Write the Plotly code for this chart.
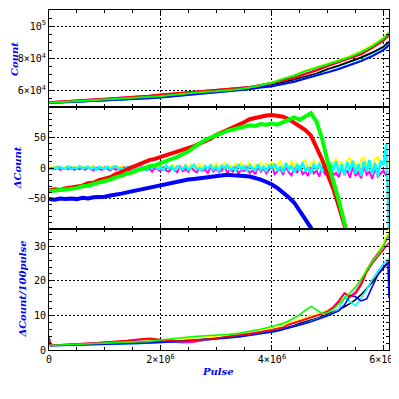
import plotly.graph_objects as go

# ---------------- data ----------------
PULSE_A = [0, 2e5, 4e5, 6e5, 8e5, 1.0e6, 1.2e6, 1.4e6, 1.6e6, 1.8e6, 2.0e6, 2.2e6, 2.4e6, 2.6e6,
           2.8e6, 3.0e6, 3.2e6, 3.4e6, 3.6e6, 3.8e6, 4.0e6, 4.2e6, 4.4e6, 4.6e6, 4.8e6, 5.0e6,
           5.2e6, 5.4e6, 5.6e6, 5.8e6, 6.0e6, 6.1e6]

COUNT_BLACK = [52600, 53000, 53400, 53700, 54000, 54200, 54500, 54800, 55200, 55700, 56300, 56900,
               57600, 58200, 58800, 59400, 60000, 60600, 61600, 62600, 63600, 65200, 66800, 68800,
               70600, 73400, 75600, 78000, 80600, 83600, 87200, 90300]
COUNT_BLUE = [52500, 52800, 53100, 53400, 53700, 53900, 54200, 54500, 54900, 55400, 55900, 56500,
              57200, 57800, 58300, 58800, 59400, 60100, 61000, 62000, 62800, 64200, 65600, 67600,
              69400, 71400, 73500, 75900, 78400, 81500, 85200, 88300]
COUNT_CYAN = [52500, 52800, 53100, 53400, 53700, 53900, 54200, 54500, 54900, 55400, 55900, 56500,
              57200, 57800, 58300, 58900, 59500, 60200, 61100, 62100, 62900, 64300, 65800, 67800,
              69600, 71600, 73800, 76200, 78800, 82000, 85800, 88800]
COUNT_RED = [53000, 53500, 54000, 54300, 54600, 55000, 55400, 55800, 56400, 57000, 57800, 58300,
             58800, 59300, 59900, 60400, 61000, 61700, 62400, 63500, 64800, 66400, 68000, 70400,
             72600, 75300, 77600, 80000, 82600, 86600, 91000, 94500]
COUNT_MAGENTA = [53000, 53400, 53900, 54300, 54600, 55000, 55400, 55800, 56300, 56900, 57600, 58200,
                 58700, 59200, 59800, 60300, 60900, 61600, 62400, 63500, 64900, 66500, 68200, 70600,
                 72900, 75600, 78000, 80400, 83100, 87100, 91600, 95000]
COUNT_GREEN = [52700, 53100, 53500, 53900, 54200, 54500, 54900, 55300, 55800, 56200, 56700, 57400,
               58200, 58900, 59400, 59800, 60400, 61000, 62100, 63500, 65000, 67400, 69500, 72200,
               74500, 76400, 78600, 81000, 84000, 87600, 92400, 95900]
COUNT_YELLOW = [52700, 53100, 53500, 53900, 54200, 54500, 54900, 55300, 55700, 56200, 56700, 57300,
                58000, 58700, 59300, 59800, 60400, 61100, 62200, 63600, 65100, 67500, 69700, 72400,
                74800, 76800, 79000, 81500, 84600, 88200, 93000, 96600]

# trend differences (red, green, blue)
PULSE_B = [0, 1e5, 2e5, 3e5, 4e5, 5e5, 6e5, 7e5, 8e5, 9e5,
           1.0e6, 1.1e6, 1.2e6, 1.3e6, 1.4e6, 1.5e6, 1.6e6, 1.7e6, 1.8e6, 1.9e6,
           2.0e6, 2.1e6, 2.2e6, 2.3e6, 2.4e6, 2.5e6, 2.6e6, 2.7e6, 2.8e6, 2.9e6,
           3.0e6, 3.1e6, 3.2e6, 3.3e6, 3.4e6, 3.5e6, 3.6e6, 3.7e6, 3.8e6, 3.9e6,
           4.0e6, 4.1e6, 4.2e6, 4.3e6, 4.4e6, 4.5e6, 4.6e6, 4.7e6, 4.8e6, 4.9e6,
           5.0e6, 5.1e6, 5.2e6, 5.3e6, 5.4e6, 5.5e6, 5.6e6, 5.7e6, 5.8e6, 5.9e6,
           6.0e6, 6.1e6]

DCOUNT_RED = [-37, -35, -36, -33, -32, -30, -29, -25, -24, -20,
              -17, -15, -10, -7, -2, 2, 6, 9, 13, 15,
              18, 21, 24, 26, 30, 33, 36, 40, 44, 48,
              54, 58, 63, 67, 71, 75, 80, 82, 85, 86,
              87, 85, 84, 80, 74, 68, 62, 53, 35, 14,
              -11, -34, -63, -98, -125, None, None, None, None, None, None, None]
DCOUNT_GREEN = [-38, -37, -36, -35, -33, -33, -30, -29, -26, -24,
                -21, -19, -15, -13, -9, -7, -3, -1, 3, 4,
                8, 11, 15, 18, 23, 27, 34, 41, 46, 50,
                53, 57, 61, 63, 66, 68, 70, 69, 72, 71,
                73, 71, 75, 79, 83, 79, 85, 90, 76, 48,
                10, -20, -53, -90, -125, None, None, None, None, None, None, None]
DCOUNT_BLUE = [-51, -52, -50, -51, -50, -51, -49, -50, -48, -48,
               -47, -45, -44, -42, -40, -38, -36, -34, -32, -30,
               -29, -27, -25, -23, -21, -19, -18, -17, -15, -14,
               -13, -12, -11, -12, -12, -13, -14, -16, -19, -23,
               -27, -33, -40, -48, -57, -70, -84, -98, -118, None,
               None, None, None, None, None, None, None, None, None, None, None, None]

# noisy differences around zero (yellow, magenta, cyan)
PULSE_N = [0, 5e4, 1e5, 1.5e5, 2e5, 2.5e5, 3e5, 3.5e5, 4e5, 4.5e5,
           5e5, 5.5e5, 6e5, 6.5e5, 7e5, 7.5e5, 8e5, 8.5e5, 9e5, 9.5e5,
           1.0e6, 1.05e6, 1.1e6, 1.15e6, 1.2e6, 1.25e6, 1.3e6, 1.35e6, 1.4e6, 1.45e6,
           1.5e6, 1.55e6, 1.6e6, 1.65e6, 1.7e6, 1.75e6, 1.8e6, 1.85e6, 1.9e6, 1.95e6,
           2.0e6, 2.05e6, 2.1e6, 2.15e6, 2.2e6, 2.25e6, 2.3e6, 2.35e6, 2.4e6, 2.45e6,
           2.5e6, 2.55e6, 2.6e6, 2.65e6, 2.7e6, 2.75e6, 2.8e6, 2.85e6, 2.9e6, 2.95e6,
           3.0e6, 3.05e6, 3.1e6, 3.15e6, 3.2e6, 3.25e6, 3.3e6, 3.35e6, 3.4e6, 3.45e6,
           3.5e6, 3.55e6, 3.6e6, 3.65e6, 3.7e6, 3.75e6, 3.8e6, 3.85e6, 3.9e6, 3.95e6,
           4.0e6, 4.05e6, 4.1e6, 4.15e6, 4.2e6, 4.25e6, 4.3e6, 4.35e6, 4.4e6, 4.45e6,
           4.5e6, 4.55e6, 4.6e6, 4.65e6, 4.7e6, 4.75e6, 4.8e6, 4.85e6, 4.9e6, 4.95e6,
           5.0e6, 5.05e6, 5.1e6, 5.15e6, 5.2e6, 5.25e6, 5.3e6, 5.35e6, 5.4e6, 5.45e6,
           5.5e6, 5.55e6, 5.6e6, 5.65e6, 5.7e6, 5.75e6, 5.8e6, 5.85e6, 5.9e6, 5.95e6,
           6.0e6, 6.05e6, 6.1e6]

DCOUNT_YELLOW = [1, 2, 0, 3, 1, -1, 2, 3, 0, 1, 2, -1, 3, 1, 0, 2, 4, -1, 2, 1,
                 3, 0, 2, 4, -1, 1, 3, 2, -2, 4, 1, 0, 3, 5, -1, 2, 4, 0, 3, -2,
                 5, 1, 3, -2, 6, 2, 0, 4, -3, 5, 2, 6, -1, 3, 7, 0, 4, -3, 6, 2,
                 7, -2, 4, 8, 0, 5, -4, 7, 3, 9, -1, 5, 8, -3, 6, 2, 9, -2, 7, 4,
                 10, -3, 6, 11, 0, 7, -4, 12, 3, 8, -5, 10, 13, -2, 7, 11, -4, 9, 14, 1,
                 12, -5, 9, 15, 2, 11, -6, 13, 16, 0, 10, -7, 14, 17, 3, 12, -5, 15, 18, 2,
                 10, 14, 6]
DCOUNT_MAGENTA = [-1, 0, -2, 1, -3, -1, 0, -2, 1, -3, -1, -2, 0, -3, 1, -2, -4, 0, -1, -3,
                  1, -2, -4, 0, -3, -1, -5, 1, -2, -4, 0, -3, -5, 1, -2, -4, -1, -6, 0, -3,
                  -5, 1, -4, -6, 0, -3, -7, 2, -5, -2, -6, 1, -4, -7, 0, -5, -3, -8, 2, -6,
                  -1, -7, -4, 1, -8, -2, -6, 2, -9, -3, -5, 1, -8, -4, -10, 2, -6, -1, -9, -3,
                  3, -10, -5, -1, -11, 2, -7, -12, 0, -8, 3, -10, -6, -13, 1, -9, -4, -14, 2, -11,
                  -5, 3, -12, -8, -15, 1, -10, -4, -16, 2, -13, -7, -17, 3, -11, -6, -18, 0, -14, -9,
                  -4, -12, -8]
DCOUNT_CYAN = [0, -2, 1, -1, 2, -1, 0, 2, -2, 1, -1, 3, -1, 0, 2, -2, 1, -3, 2, 0,
               -1, 2, -2, 1, 3, -1, 0, -3, 2, 1, -2, 3, 0, -1, 2, -3, 1, 0, 3, -2,
               1, -3, 4, -1, 2, -4, 3, 0, -2, 4, -3, 1, 5, -2, 0, -4, 3, -1, 4, -3,
               2, -5, 4, -1, 5, -3, 1, -5, 6, -2, 3, -6, 4, 0, -4, 6, -3, 2, -6, 5,
               -1, 7, -5, 3, -7, 8, -2, 4, -8, 6, -4, 9, -6, 2, -9, 7, -3, 8, -7, 5,
               -10, 9, -4, 11, -8, 6, -12, 10, -5, 12, -9, 7, -13, 11, -6, 13, -10, 8, -14, 12,
               5, 40, -110]

PULSE_C = [0, 3e4, 2e5, 4e5, 6e5, 8e5, 1.0e6, 1.2e6, 1.4e6, 1.6e6, 1.8e6, 2.0e6, 2.2e6, 2.4e6,
           2.6e6, 2.8e6, 3.0e6, 3.2e6, 3.4e6, 3.6e6, 3.8e6, 4.0e6,
           4.1e6, 4.2e6, 4.3e6, 4.4e6, 4.5e6, 4.6e6, 4.7e6, 4.8e6, 4.9e6, 5.0e6,
           5.1e6, 5.2e6, 5.3e6, 5.4e6, 5.5e6, 5.6e6, 5.7e6, 5.8e6, 5.9e6, 6.0e6, 6.08e6, 6.1e6]

RATE_BLACK = [1.4, 1.4, 1.45, 1.5, 1.6, 1.7, 1.8, 1.9, 2.0, 2.1, 2.2, 2.4, 2.5, 2.7, 2.9, 3.1, 3.4,
              3.7, 4.0, 4.4, 4.8, 5.4,
              5.7, 6.1, 6.6, 7.1, 7.7, 8.1, 8.6, 9.1, 9.7, 10.3, 11.0, 11.7, 12.5, 13.4, 14.6, 16.0,
              17.8, 19.6, 21.8, 23.8, 25.3, 25.6]
RATE_BLUE = [3.5, 1.2, 1.3, 1.35, 1.4, 1.5, 1.6, 1.7, 1.8, 1.9, 2.0, 2.2, 2.3, 2.5, 2.7, 2.9, 3.2,
             3.5, 3.8, 4.2, 4.6, 5.2,
             5.5, 5.9, 6.4, 6.9, 7.3, 7.7, 8.2, 8.7, 9.3, 9.9, 10.6, 11.3, 13.0, 15.7, 15.4, 14.2,
             14.8, 18.5, 21.8, 24.0, 25.4, 15.0]
RATE_CYAN = [1.6, 1.3, 1.3, 1.35, 1.45, 1.5, 1.6, 1.7, 1.8, 1.9, 2.0, 2.2, 2.3, 2.5, 2.7, 2.9, 3.2,
             3.5, 3.8, 4.2, 4.6, 5.2,
             5.5, 5.9, 6.4, 6.9, 7.3, 7.8, 8.3, 8.8, 9.4, 10.0, 10.8, 11.8, 15.3, 14.0, 12.8, 15.0,
             17.5, 20.5, 22.8, 25.0, 26.3, 26.5]
RATE_RED = [3.9, 1.3, 1.5, 1.6, 1.8, 2.0, 2.2, 2.4, 2.7, 3.1, 3.4, 3.0, 2.7, 2.5, 2.7, 3.0, 3.4,
            3.9, 4.2, 4.6, 5.2, 5.8,
            6.1, 6.5, 7.4, 7.9, 8.3, 8.8, 9.3, 9.8, 10.4, 11.1, 12.2, 14.0, 16.4, 15.3, 16.3, 18.8,
            22.5, 25.0, 27.0, 28.8, 30.6, 31.0]
RATE_MAGENTA = [1.4, 1.3, 1.5, 1.6, 1.8, 2.0, 2.2, 2.4, 2.6, 2.9, 3.1, 2.8, 2.3, 2.1, 2.3, 2.8, 3.3,
                3.8, 4.2, 4.7, 5.2, 5.8,
                6.2, 6.6, 7.3, 7.8, 8.3, 8.8, 9.3, 9.9, 10.5, 11.3, 12.5, 14.3, 16.5, 15.6, 16.8,
                19.5, 23.0, 25.8, 28.0, 30.0, 32.4, 33.0]
RATE_GREEN = [1.4, 1.3, 1.45, 1.55, 1.7, 1.85, 2.0, 2.2, 2.3, 2.4, 2.5, 2.9, 3.3, 3.7, 3.9, 4.1, 4.2,
              4.5, 4.8, 5.3, 6.0, 6.8,
              7.2, 7.7, 8.4, 9.2, 10.2, 11.5, 12.6, 11.6, 10.5, 10.8, 11.8, 13.3, 14.8, 16.5, 18.2,
              20.4, 23.0, 25.5, 27.5, 30.3, 33.0, 33.6]
RATE_YELLOW = [1.4, 1.3, 1.45, 1.55, 1.7, 1.85, 2.0, 2.2, 2.3, 2.4, 2.5, 2.8, 3.1, 3.4, 3.6, 3.8, 4.0,
               4.3, 4.6, 5.1, 5.7, 6.3,
               6.7, 7.2, 7.8, 8.3, 8.9, 9.4, 9.9, 10.4, 10.9, 11.5, 12.5, 13.8, 15.2, 16.6, 18.3,
               20.6, 23.4, 26.0, 28.2, 31.0, 34.2, 35.0]

X_TICKS = [0, 2e6, 4e6, 6e6]
X_LABELS = ["0", "2×10<sup>6</sup>", "4×10<sup>6</sup>", "6×10<sup>6</sup>"]
Y1_TICKS = [6e4, 8e4, 1e5]
Y1_LABELS = ["6×10<sup>4</sup>", "8×10<sup>4</sup>", "10<sup>5</sup>"]
Y2_TICKS = [-50, 0, 50]
Y2_LABELS = ["−50", "0", "50"]
Y3_TICKS = [0, 10, 20, 30]
Y3_LABELS = ["0", "10", "20", "30"]

COLORS = {"black": "#000000", "yellow": "#ffff00", "magenta": "#ff00ff", "cyan": "#00ffff",
          "blue": "#0000ff", "red": "#ff0000", "green": "#00ff00"}

# ---------------- figure ----------------
fig = go.Figure()

p1 = [("black", COUNT_BLACK), ("yellow", COUNT_YELLOW), ("magenta", COUNT_MAGENTA),
      ("cyan", COUNT_CYAN), ("blue", COUNT_BLUE), ("red", COUNT_RED), ("green", COUNT_GREEN)]
for name, ys in p1:
    fig.add_trace(go.Scatter(x=PULSE_A, y=ys, mode="lines", line=dict(color=COLORS[name], width=2),
                             xaxis="x", yaxis="y", showlegend=False, hoverinfo="skip"))

p2n = [("yellow", DCOUNT_YELLOW, 2), ("magenta", DCOUNT_MAGENTA, 2), ("cyan", DCOUNT_CYAN, 2.5)]
for name, ys, w in p2n:
    fig.add_trace(go.Scatter(x=PULSE_N, y=ys, mode="lines", line=dict(color=COLORS[name], width=w),
                             xaxis="x2", yaxis="y2", showlegend=False, hoverinfo="skip"))
p2 = [("blue", DCOUNT_BLUE), ("red", DCOUNT_RED), ("green", DCOUNT_GREEN)]
for name, ys in p2:
    fig.add_trace(go.Scatter(x=PULSE_B, y=ys, mode="lines", line=dict(color=COLORS[name], width=4),
                             xaxis="x2", yaxis="y2", showlegend=False, hoverinfo="skip"))

p3 = [("black", RATE_BLACK), ("yellow", RATE_YELLOW), ("magenta", RATE_MAGENTA),
      ("cyan", RATE_CYAN), ("blue", RATE_BLUE), ("red", RATE_RED), ("green", RATE_GREEN)]
for name, ys in p3:
    fig.add_trace(go.Scatter(x=PULSE_C, y=ys, mode="lines", line=dict(color=COLORS[name], width=1.6),
                             xaxis="x3", yaxis="y3", showlegend=False, hoverinfo="skip"))

tickfont = dict(family="DejaVu Sans Mono", size=10, color="black")
common = dict(showline=True, linecolor="black", linewidth=1, mirror="ticks", ticks="inside",
              ticklen=5, tickwidth=1, tickcolor="black", showgrid=True, gridcolor="black",
              griddash="2px,2px", gridwidth=1, zeroline=False, tickfont=tickfont, fixedrange=True,
              automargin=False)

D1 = [0.7147, 1.0]
D2 = [0.3559, 0.7147]
D3 = [0.0, 0.3559]

def xax(anchor, labels):
    d = dict(common)
    d.update(domain=[0, 1], range=[0, 6.1e6], anchor=anchor, tickvals=X_TICKS, ticktext=X_LABELS,
             showticklabels=labels,
             minor=dict(ticks="inside", ticklen=3, dtick=5e5, tick0=0, tickcolor="black", showgrid=False))
    return d

y1 = dict(common); y1.update(domain=D1, range=[5e4, 1.1e5], anchor="x", tickvals=Y1_TICKS, ticktext=Y1_LABELS,
                             minor=dict(ticks="inside", ticklen=3, dtick=5000, tick0=0, tickcolor="black", showgrid=False))
y2 = dict(common); y2.update(domain=D2, range=[-100, 100], anchor="x2", tickvals=Y2_TICKS, ticktext=Y2_LABELS,
                             minor=dict(ticks="inside", ticklen=3, dtick=10, tick0=0, tickcolor="black", showgrid=False))
y3 = dict(common); y3.update(domain=D3, range=[0, 35], anchor="x3", tickvals=Y3_TICKS, ticktext=Y3_LABELS,
                             minor=dict(ticks="inside", ticklen=3, dtick=2, tick0=0, tickcolor="black", showgrid=False))

titlefont = dict(family="DejaVu Serif", size=10, color="#0000ff", weight="bold", style="italic")

# The page body adds an 8px margin, so the figure is 391px and its margins are reduced by 8px.
fig.update_layout(
    width=391, height=391,
    margin=dict(l=41, r=10, t=2, b=49, autoexpand=False),
    paper_bgcolor="white", plot_bgcolor="white",
    xaxis=xax("y", False), xaxis2=xax("y2", False), xaxis3=xax("y3", True),
    yaxis=y1, yaxis2=y2, yaxis3=y3,
    annotations=[
        dict(text="Count", xref="paper", yref="paper", x=-0.102, y=0.857, textangle=-90,
             showarrow=False, font=titlefont, xanchor="center", yanchor="middle"),
        dict(text="ΔCount", xref="paper", yref="paper", x=-0.094, y=0.535, textangle=-90,
             showarrow=False, font=titlefont, xanchor="center", yanchor="middle"),
        dict(text="ΔCount/100pulse", xref="paper", yref="paper", x=-0.079, y=0.178, textangle=-90,
             showarrow=False, font=titlefont, xanchor="center", yanchor="middle"),
        dict(text="Pulse", xref="paper", yref="paper", x=0.497, y=-0.062,
             showarrow=False, font=titlefont, xanchor="center", yanchor="middle"),
    ],
)

fig.write_html("out.html")
